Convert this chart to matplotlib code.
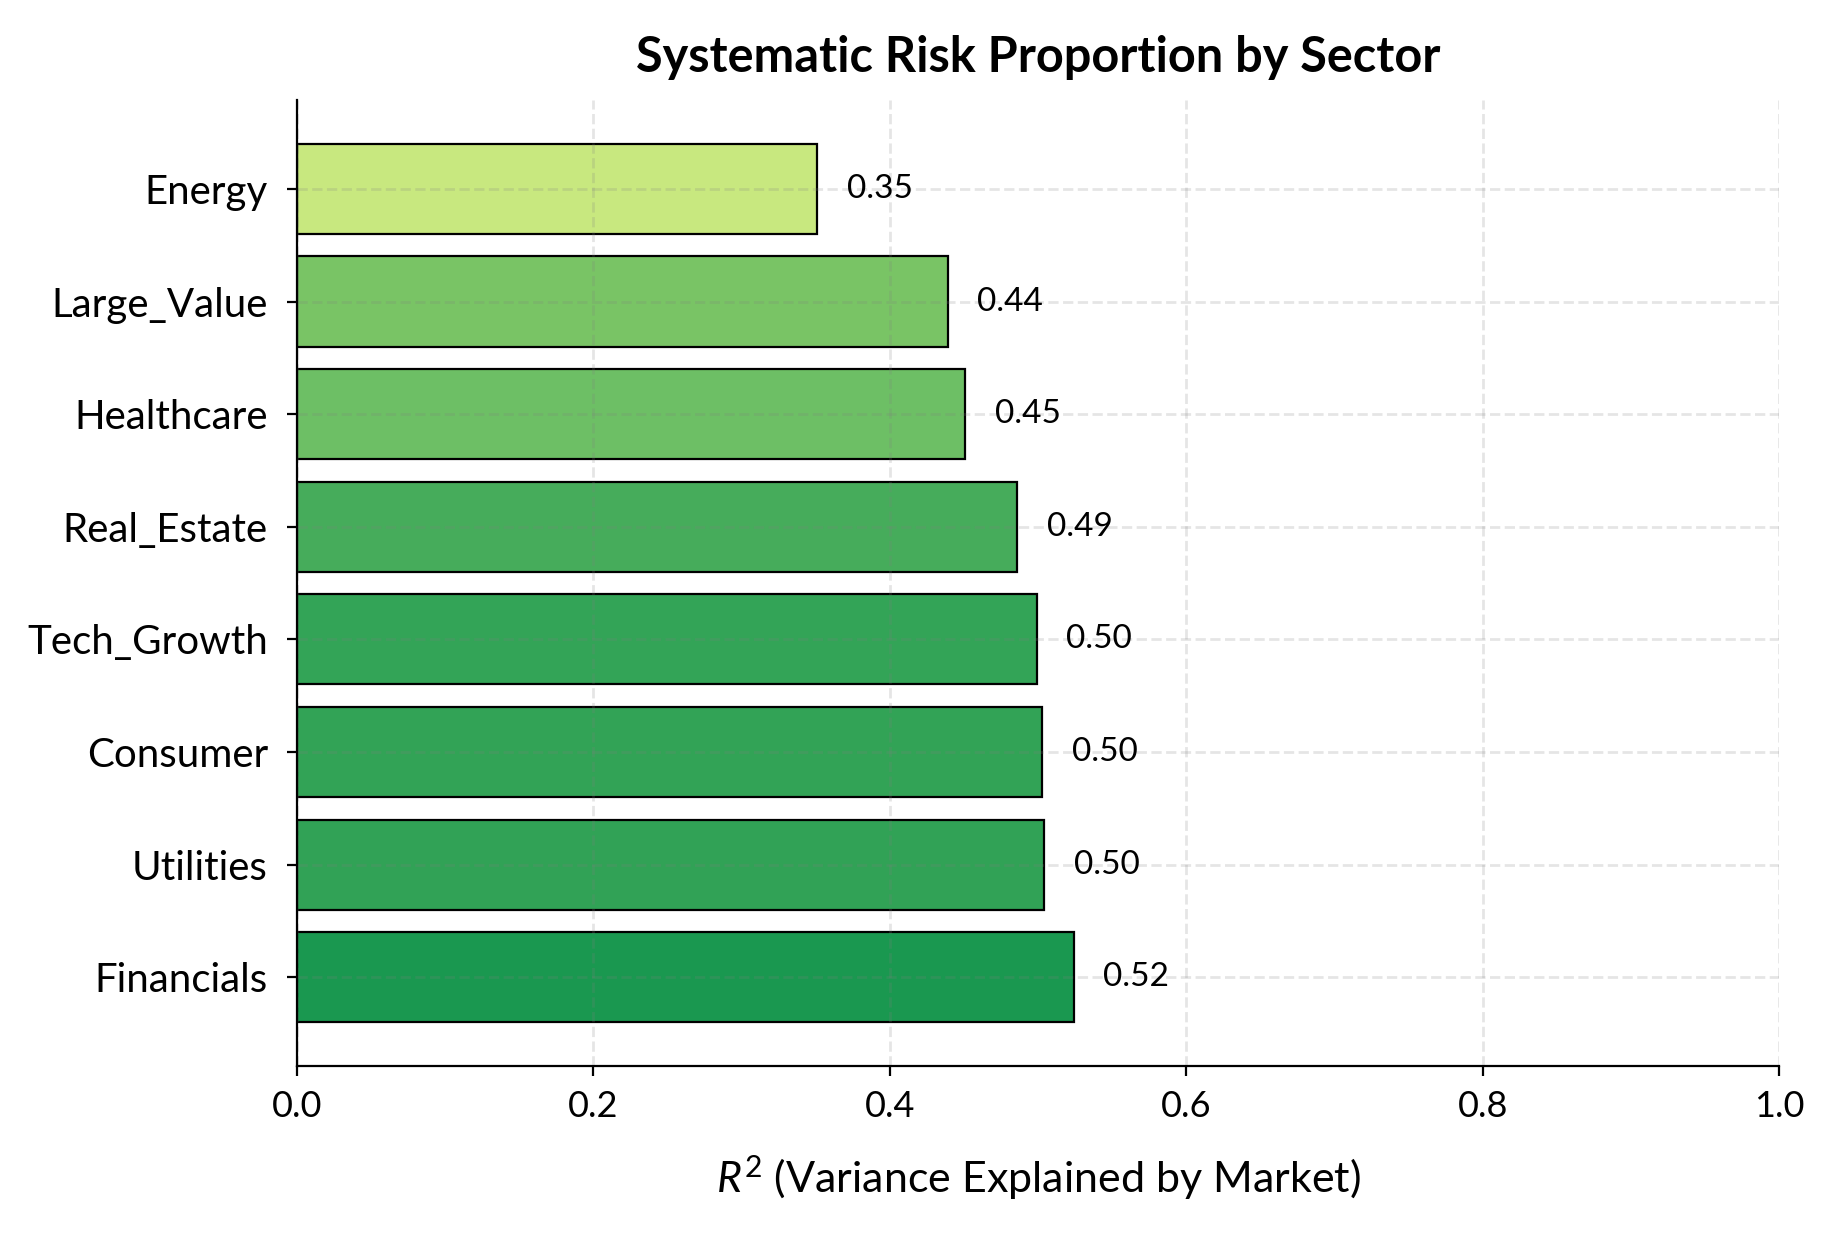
import matplotlib
matplotlib.use("Agg")
import matplotlib.pyplot as plt

# Data (top to bottom as drawn)
sectors = ["Energy", "Large_Value", "Healthcare", "Real_Estate",
           "Tech_Growth", "Consumer", "Utilities", "Financials"]
r2 = [0.351, 0.439, 0.451, 0.486, 0.499, 0.503, 0.504, 0.524]
bar_colors = ["#c8e87f", "#79c465", "#6dbf65", "#46ac5b",
              "#33a457", "#32a356", "#31a256", "#1a9850"]

plt.rcParams["font.family"] = ["Lato", "DejaVu Sans"]
plt.rcParams["mathtext.fontset"] = "custom"
plt.rcParams["mathtext.it"] = "Lato:italic"
plt.rcParams["mathtext.rm"] = "Lato"

fig = plt.figure(figsize=(9.17, 6.17), dpi=200)
ax = fig.add_axes([0.162, 0.136, 0.808, 0.783])

# barh draws bottom-up, so reverse to keep Energy on top
ypos = list(range(len(sectors)))[::-1]
ax.barh(ypos, r2, height=0.8, color=bar_colors, edgecolor="black", linewidth=0.8)

for y, v in zip(ypos, r2):
    ax.text(v + 0.02, y, f"{v:.2f}", va="center", ha="left", fontsize=12)

ax.set_yticks(ypos)
ax.set_yticklabels(sectors, fontsize=14.5)
ax.set_xlim(0, 1.0)
ax.tick_params(axis="x", labelsize=13, pad=5)
ax.tick_params(axis="y", pad=7)
ax.set_xlabel("$R^2$ (Variance Explained by Market)", fontsize=15.5, labelpad=11)
ax.set_title("Systematic Risk Proportion by Sector", fontsize=17.5, fontweight="bold", pad=10)

ax.spines["top"].set_visible(False)
ax.spines["right"].set_visible(False)
ax.grid(True, linestyle="--", color="gray", alpha=0.2, linewidth=1.0)

plt.savefig("out.png", dpi=200)
